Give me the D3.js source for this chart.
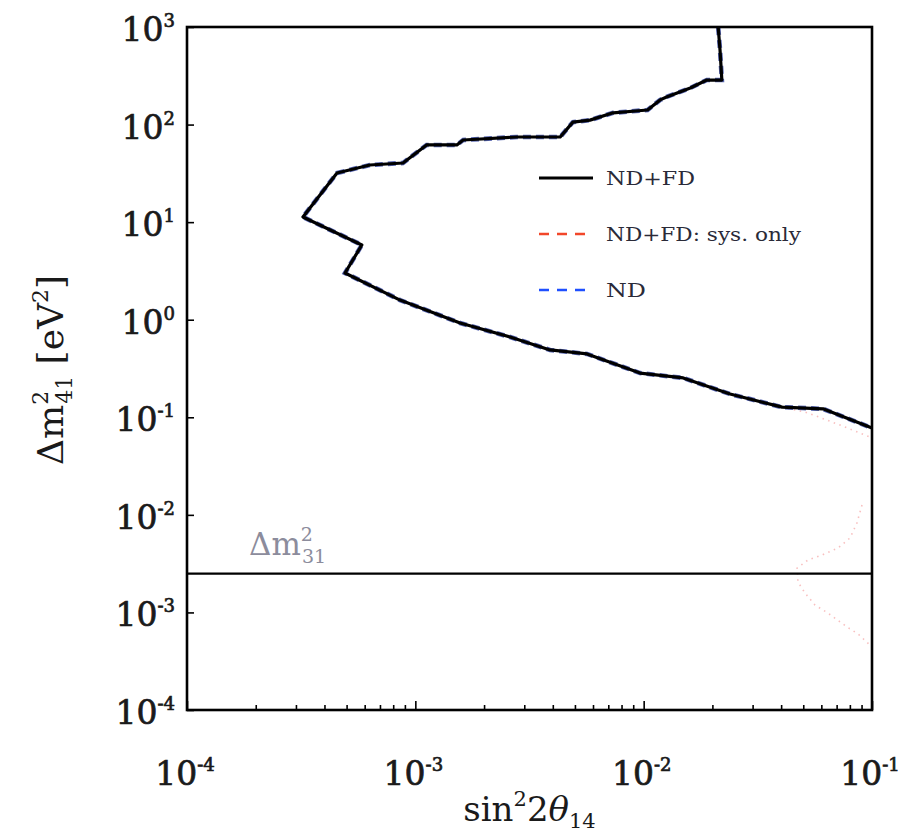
<!DOCTYPE html>
<html>
<head>
<meta charset="utf-8">
<script src="https://cdn.jsdelivr.net/npm/d3@7"></script>
<style>
  body { margin: 0; background: #fff; }
  text { font-family: "DejaVu Serif", "Liberation Serif", serif; }
</style>
</head>
<body>
<div id="plotarea"></div>
<script>
// sensitivity contour, ND+FD (the ND curve lies on the same line)
var contourSin2 = [0.0212, 0.0216, 0.0220, 0.0189, 0.0160, 0.0126, 0.0118, 0.0104, 0.00735, 0.00582,
                   0.00490, 0.00431, 0.00279, 0.00162, 0.00152, 0.00112, 0.000883, 0.000632, 0.000454, 0.000322,
                   0.000583, 0.000492, 0.000857, 0.00157, 0.00260, 0.00389, 0.00565, 0.00964, 0.0149, 0.0239,
                   0.0404, 0.0610, 0.1];
var contourDm2 = [1000, 581, 286, 286, 237, 192, 179, 141, 132, 111,
                  106, 74.6, 74.6, 69.5, 61.8, 61.8, 40.4, 38.5, 31.9, 11.3,
                  5.83, 3.01, 1.59, 0.925, 0.665, 0.490, 0.446, 0.284, 0.253, 0.173,
                  0.127, 0.122, 0.0776];

// sys. only contour: the pieces that come away from the main line
var sysTailSin2 = [0.0404, 0.0509, 0.0635, 0.0762, 0.098];
var sysTailDm2  = [0.127, 0.113, 0.0938, 0.0794, 0.0628];
var sysLowSin2 = [0.0904, 0.0859, 0.0801, 0.0710, 0.0604, 0.0525, 0.0470, 0.0474, 0.0509, 0.0563,
                  0.0641, 0.0778, 0.0869, 0.0980];
var sysLowDm2  = [0.01262, 0.00824, 0.00579, 0.00457, 0.00388, 0.00345, 0.00285, 0.00205, 0.00158, 0.00119,
                  0.000986, 0.000709, 0.000601, 0.000463];

var dm31 = 2.5e-3;

var xTickExp = [-4, -3, -2, -1];
var yTickExp = [3, 2, 1, 0, -1, -2, -3, -4];
var legendLabels = ["ND+FD", "ND+FD: sys. only", "ND"];
var legendColors = ["#000000", "#f2472a", "#1f4fff"];

var margin = {top: 27, right: 40, bottom: 128, left: 187},
    width = 912 - margin.left - margin.right,
    height = 838 - margin.top - margin.bottom;

var svg = d3.select("#plotarea")
  .append("svg")
    .attr("width", width + margin.left + margin.right)
    .attr("height", height + margin.top + margin.bottom)
  .append("g")
    .attr("transform", "translate(" + margin.left + "," + margin.top + ")");

var x = d3.scaleLog().domain([1e-4, 1e-1]).range([0, width]);
var y = d3.scaleLog().domain([1e-4, 1e3]).range([height, 0]);

// minor ticks along the bottom: 2..9 in each decade
var minorX = [];
xTickExp.slice(0, -1).forEach(function(e) {
  for (var k = 2; k <= 9; k++) minorX.push(k * Math.pow(10, e));
});

svg.append("g")
  .attr("transform", "translate(0," + height + ")")
  .call(d3.axisBottom(x).tickValues(minorX).tickSize(-5).tickFormat(""))
  .call(function(g) { g.select(".domain").remove(); });
svg.append("g")
  .attr("transform", "translate(0," + height + ")")
  .call(d3.axisBottom(x).tickValues(xTickExp.map(function(e) { return Math.pow(10, e); }))
        .tickSize(-9).tickFormat(""))
  .call(function(g) { g.select(".domain").remove(); });
svg.append("g")
  .call(d3.axisLeft(y).tickValues(yTickExp.map(function(e) { return Math.pow(10, e); }))
        .tickSize(-7).tickFormat(""))
  .call(function(g) { g.select(".domain").remove(); });
svg.selectAll(".tick line").attr("stroke", "#000").attr("stroke-width", 1.6);

// "10^n" labels
function powLabel(t, e) {
  t.append("tspan").text("10");
  t.append("tspan").attr("dy", -14).attr("font-size", 18).text(e < 0 ? "-" + (-e) : e);
}

yTickExp.forEach(function(e) {
  var t = svg.append("text")
    .attr("x", -12)
    .attr("y", y(Math.pow(10, e)) + 14)
    .attr("text-anchor", "end")
    .attr("font-size", 33)
    .attr("fill", "#1a1a1a")
    .attr("stroke", "#1a1a1a")
    .attr("stroke-width", 0.7);
  powLabel(t, e);
});

xTickExp.forEach(function(e) {
  var t = svg.append("text")
    .attr("x", x(Math.pow(10, e)) - 2)
    .attr("y", height + 75)
    .attr("text-anchor", "middle")
    .attr("font-size", 33)
    .attr("fill", "#1a1a1a")
    .attr("stroke", "#1a1a1a")
    .attr("stroke-width", 0.7);
  powLabel(t, e);
});

var line = d3.line()
  .x(function(d) { return x(d[0]); })
  .y(function(d) { return y(d[1]); });

svg.append("clipPath").attr("id", "frameclip")
  .append("rect").attr("width", width).attr("height", height);

var contour = d3.zip(contourSin2, contourDm2);
var plot = svg.append("g").attr("clip-path", "url(#frameclip)");

// sys. only, faint dotted where it leaves the main contour
[d3.zip(sysTailSin2, sysTailDm2), d3.zip(sysLowSin2, sysLowDm2)].forEach(function(seg) {
  plot.append("path")
    .datum(seg)
    .attr("d", line)
    .attr("fill", "none")
    .attr("stroke", "#f07070")
    .attr("stroke-opacity", 0.45)
    .attr("stroke-width", 1.6)
    .attr("stroke-dasharray", "1.5,4.5");
});

// ND (blue dashed) under ND+FD (black)
plot.append("path")
  .datum(contour)
  .attr("d", line)
  .attr("fill", "none")
  .attr("stroke", "#2a3d9e")
  .attr("stroke-width", 4.6)
  .attr("stroke-dasharray", "8,5")
  .attr("stroke-opacity", 0.8);
plot.append("path")
  .datum(contour)
  .attr("d", line)
  .attr("fill", "none")
  .attr("stroke", "#000")
  .attr("stroke-width", 3.2)
  .attr("stroke-linejoin", "round");

// atmospheric mass splitting
svg.append("line")
  .attr("x1", 0).attr("x2", width)
  .attr("y1", y(dm31)).attr("y2", y(dm31))
  .attr("stroke", "#000")
  .attr("stroke-width", 2.4);

var lab31 = svg.append("text")
  .attr("x", 62)
  .attr("y", y(dm31) - 19)
  .attr("font-size", 31)
  .attr("fill", "#8c8c9c");
lab31.append("tspan").text("\u0394m");
lab31.append("tspan").attr("dy", -14).attr("font-size", 19).text("2");
lab31.append("tspan").attr("dx", -11).attr("dy", 22).attr("font-size", 19).text("31");

// frame
svg.append("rect")
  .attr("width", width).attr("height", height)
  .attr("fill", "none")
  .attr("stroke", "#000")
  .attr("stroke-width", 2.6);

// legend
var legendWidths = [89, 195, 40];
var legend = svg.append("g").attr("transform", "translate(352,151)");
legendLabels.forEach(function(name, i) {
  var row = legend.append("g").attr("transform", "translate(0," + (i * 56) + ")");
  row.append("line")
    .attr("x1", 0).attr("x2", 54)
    .attr("stroke", legendColors[i])
    .attr("stroke-width", i == 0 ? 3 : 2.4)
    .attr("stroke-dasharray", i == 0 ? null : "10,8");
  row.append("text")
    .attr("x", 67).attr("y", 7)
    .attr("font-size", 18)
    .attr("textLength", legendWidths[i])
    .attr("lengthAdjust", "spacingAndGlyphs")
    .attr("fill", "#2a2a38")
    .text(name);
});

// axis titles
var xt = svg.append("text")
  .attr("x", width / 2)
  .attr("y", height + 111)
  .attr("text-anchor", "middle")
  .attr("font-size", 34)
  .attr("fill", "#1a1a1a");
xt.append("tspan").text("sin");
xt.append("tspan").attr("dy", -15).attr("font-size", 21).text("2");
xt.append("tspan").attr("dy", 15).text("2");
xt.append("tspan").attr("font-style", "italic").text("\u03b8");
xt.append("tspan").attr("dy", 7).attr("font-size", 21).text("14");

var yt = svg.append("text")
  .attr("transform", "translate(" + (63 - margin.left) + "," + (370 - margin.top) + ") rotate(-90)")
  .attr("text-anchor", "middle")
  .attr("font-size", 36)
  .attr("fill", "#1a1a1a");
yt.append("tspan").text("\u0394m");
yt.append("tspan").attr("dy", -15).attr("font-size", 22).text("2");
yt.append("tspan").attr("dx", -13).attr("dy", 24).attr("font-size", 22).text("41");
yt.append("tspan").attr("dy", -9).text(" [eV");
yt.append("tspan").attr("dy", -15).attr("font-size", 22).text("2");
yt.append("tspan").attr("dy", 15).text("]");
</script>
</body>
</html>
